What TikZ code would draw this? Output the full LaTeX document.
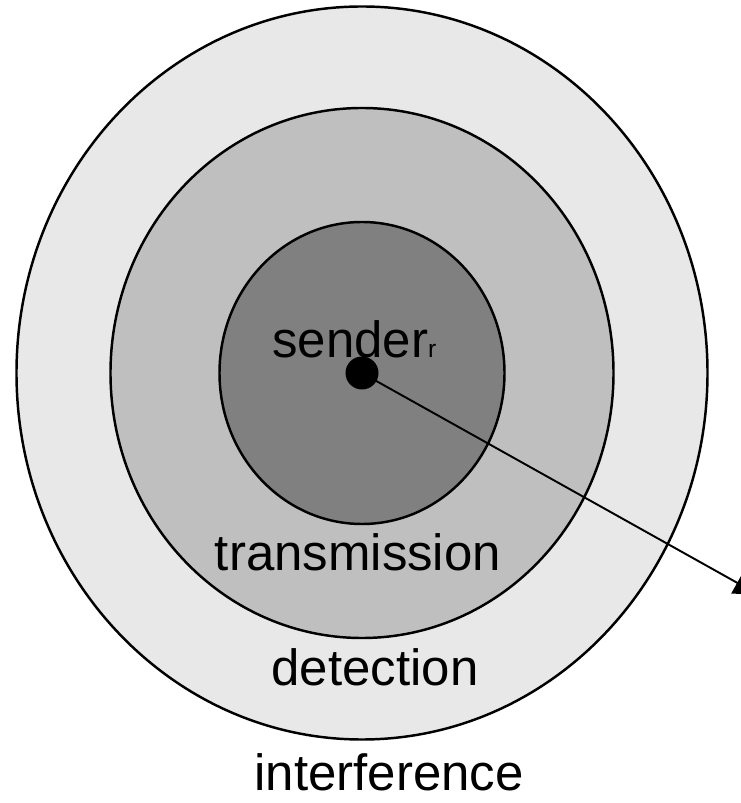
\documentclass[tikz,border=0pt]{standalone}
\usepackage{fontspec}
\setmainfont{Liberation Sans}
\usetikzlibrary{arrows.meta}

\tikzset{
  zone/.style={draw=black, line width=1.4pt},
  zonelabel/.style={anchor=base, inner sep=0pt, text depth=0pt, font=\fontsize{29}{34}\selectfont},
}

\begin{document}
\begin{tikzpicture}
 \useasboundingbox (-7.24,-8.6) rectangle (7.58,7.46);
 \clip (-7.24,-8.6) rectangle (7.58,7.46);

 % the three ranges, outside in
 \filldraw[zone, fill=black!9] (0,0) ellipse (6.91 and 7.33);
 \filldraw[zone, fill=black!25] (0,0) ellipse (5.03 and 5.30);
 \filldraw[zone, fill=black!50] (0,0) ellipse (2.85 and 3.02);

 \node[circle, fill=black, minimum size=0.66cm, inner sep=0pt] (sender) at (0,0) {};
 \coordinate (reach) at (7.94,-4.44);
 \draw[line width=1.1pt, -{Triangle[length=0.5cm,width=0.48cm]}] (sender.center) -- (reach);

 \node[zonelabel, anchor=base west] (sendlabel) at (-1.8,0.30) {sender{\fontsize{14}{14}\selectfont r}};
 \node[zonelabel] (trans) at (-0.08,-3.94) {transmission};
 \node[zonelabel] (detect) at (0.26,-6.24) {detection};
 \node[zonelabel] (interf) at (0.54,-8.34) {interference};
\end{tikzpicture}
\end{document}
